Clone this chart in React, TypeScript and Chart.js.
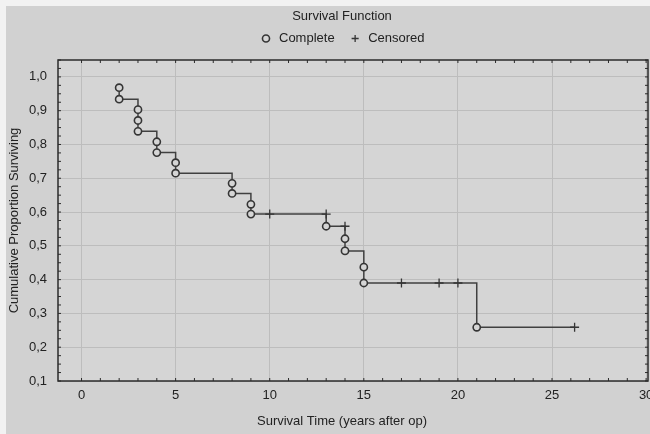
import React, { useEffect, useRef } from 'react';
import { Chart, registerables } from 'chart.js';

Chart.register(...registerables);

// ---- data ----
const completeTimes = [2, 2, 3, 3, 3, 4, 4, 5, 5, 8, 8, 9, 9, 13, 14, 14, 15, 15, 21];
const completeSurvival = [0.968, 0.934, 0.903, 0.871, 0.839, 0.808, 0.776, 0.746, 0.715, 0.685, 0.655, 0.623, 0.594, 0.558, 0.521, 0.485, 0.437, 0.39, 0.259];
const censoredTimes = [10, 13, 14, 17, 19, 20, 26.2];
const censoredSurvival = [0.594, 0.594, 0.558, 0.39, 0.39, 0.39, 0.259];
const xTickValues = [0, 5, 10, 15, 20, 25, 30];
const yTickValues = [0.1, 0.2, 0.3, 0.4, 0.5, 0.6, 0.7, 0.8, 0.9, 1.0];

const FONT = "'Liberation Sans', Arial, Helvetica, sans-serif";
const TEXT = '#222222';
const INK = '#353535';
const GRID = '#bdbdbd';
const BG = '#d1d1d1';
const PLOT_BG = '#d5d5d5';

const framePlugin = {
  id: 'statFrame',
  beforeDraw(chart: any) {
    const { ctx, chartArea: a } = chart;
    ctx.save();
    ctx.fillStyle = PLOT_BG;
    ctx.fillRect(a.left, a.top, a.right - a.left, a.bottom - a.top);
    ctx.restore();
  },
  afterDatasetsDraw(chart: any) {
    const { ctx, chartArea: a, scales } = chart;
    ctx.save();
    ctx.strokeStyle = '#2b2b2b';
    ctx.lineWidth = 1.5;
    ctx.strokeRect(a.left, a.top, a.right - a.left, a.bottom - a.top);
    ctx.lineWidth = 1;
    ctx.beginPath();
    for (let v = 0; v <= 30; v += 1) {
      const px = scales.x.getPixelForValue(v);
      if (px < a.left || px > a.right) continue;
      ctx.moveTo(px, a.bottom);
      ctx.lineTo(px, a.bottom - 3);
      ctx.moveTo(px, a.top);
      ctx.lineTo(px, a.top + 3);
    }
    for (let i = 4; i <= 42; i += 1) {
      const v = i * 0.025;
      const py = scales.y.getPixelForValue(v);
      if (py < a.top || py > a.bottom) continue;
      ctx.moveTo(a.left, py);
      ctx.lineTo(a.left + 3, py);
      ctx.moveTo(a.right, py);
      ctx.lineTo(a.right - 3, py);
    }
    ctx.stroke();
    ctx.restore();
  },
};

export default function App() {
  const ref = useRef<HTMLCanvasElement>(null);

  useEffect(() => {
    const completePts = completeTimes.map((t, i) => ({ x: t, y: completeSurvival[i] }));
    const censoredPts = censoredTimes.map((t, i) => ({ x: t, y: censoredSurvival[i] }));
    const stepPts = [...completePts, ...censoredPts].sort((p, q) => (p.x - q.x) || (q.y - p.y));

    const chart = new Chart(ref.current as HTMLCanvasElement, {
      type: 'scatter',
      data: {
        datasets: [
          {
            label: 'Complete',
            data: completePts,
            pointStyle: 'circle',
            pointRadius: 3.6,
            pointBorderWidth: 1.6,
            borderColor: INK,
            backgroundColor: PLOT_BG,
            pointBackgroundColor: PLOT_BG,
            pointBorderColor: INK,
            showLine: false,
          },
          {
            label: 'Censored',
            data: censoredPts,
            pointStyle: 'cross',
            pointRadius: 4.5,
            pointBorderWidth: 1.3,
            borderColor: INK,
            backgroundColor: INK,
            pointBorderColor: INK,
            showLine: false,
          },
          {
            label: '',
            data: stepPts,
            showLine: true,
            stepped: 'before',
            borderColor: '#404040',
            borderWidth: 1.5,
            pointRadius: 0,
            fill: false,
          } as any,
        ],
      },
      options: {
        animation: false,
        responsive: false,
        events: [],
        layout: { padding: 0 },
        plugins: {
          title: {
            display: true,
            text: 'Survival Function',
            color: TEXT,
            font: { family: FONT, size: 13, weight: 'normal', lineHeight: 1 },
            padding: { top: 2.5, bottom: -5 },
          },
          subtitle: {
            display: true,
            position: 'bottom',
            text: 'Survival Time (years after op)',
            color: TEXT,
            font: { family: FONT, size: 13, weight: 'normal', lineHeight: 1 },
            padding: { top: 0, bottom: 6 },
          },
          legend: {
            display: true,
            position: 'top',
            labels: {
              usePointStyle: true,
              boxWidth: 13,
              boxHeight: 5,
              padding: 14,
              color: TEXT,
              font: { family: FONT, size: 13 },
              filter: (item: any) => item.text !== '',
            },
          },
          tooltip: { enabled: false },
        },
        scales: {
          x: {
            type: 'linear',
            min: -1.25,
            max: 30.1,
            afterBuildTicks: (s: any) => {
              s.ticks = xTickValues.map((v) => ({ value: v }));
            },
            afterFit: (s: any) => {
              s.height = 33.8;
              s.paddingLeft = 0;
              s.paddingRight = 30;
            },
            grid: { color: GRID, drawTicks: false, lineWidth: 1 },
            border: { display: false },
            ticks: {
              padding: 7,
              color: TEXT,
              font: { family: FONT, size: 13 },
              maxRotation: 0,
              autoSkip: false,
              callback: (v: any) => String(v),
            },
          },
          xSpacer: {
            type: 'linear',
            position: 'top',
            min: -1.25,
            max: 30.1,
            grid: { display: false, drawTicks: false },
            border: { display: false },
            ticks: { display: false },
            afterFit: (s: any) => {
              s.height = 5;
              s.paddingLeft = 0;
              s.paddingRight = 0;
            },
          },
          y: {
            type: 'linear',
            min: 0.1,
            max: 1.05,
            afterBuildTicks: (s: any) => {
              s.ticks = yTickValues.map((v) => ({ value: v }));
            },
            afterFit: (s: any) => {
              s.width = 52;
              s.paddingTop = 54;
              s.paddingBottom = 53;
            },
            grid: { color: GRID, drawTicks: false, lineWidth: 1 },
            border: { display: false },
            ticks: {
              padding: 11,
              color: TEXT,
              font: { family: FONT, size: 13 },
              callback: (v: any) => Number(v).toFixed(1).replace('.', ','),
            },
            title: {
              display: true,
              text: 'Cumulative Proportion Surviving',
              color: TEXT,
              font: { family: FONT, size: 13 },
              padding: { top: 1, bottom: 0 },
            },
          },
        },
      },
      plugins: [framePlugin],
    });
    return () => chart.destroy();
  }, []);

  return (
    <div style={{ position: 'fixed', left: 0, top: 0, width: 650, height: 434, background: '#f2f2f2', overflow: 'hidden' }}>
      <div style={{ position: 'absolute', left: 6, top: 6, width: 644, height: 428, background: BG, overflow: 'hidden' }}>
        <canvas ref={ref} width={672} height={428} style={{ display: 'block', width: 672, height: 428 }} />
      </div>
    </div>
  );
}
